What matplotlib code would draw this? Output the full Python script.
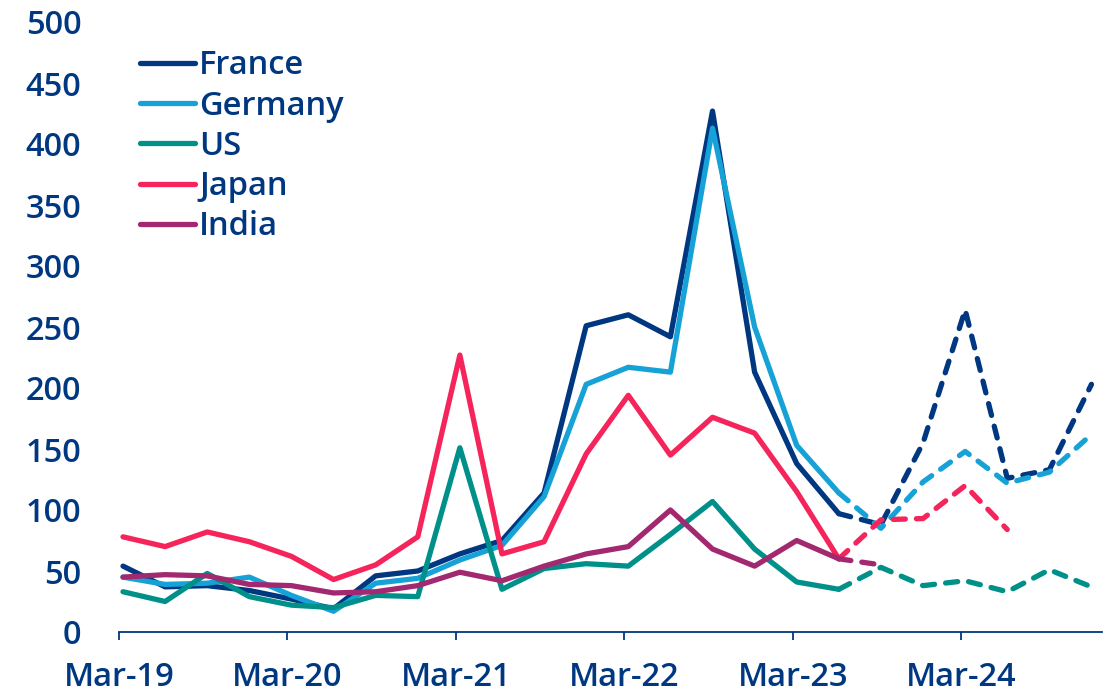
import matplotlib
matplotlib.use("Agg")
import matplotlib.pyplot as plt
import numpy as np

# Quarterly periods Mar-19 .. Dec-24
quarters = ["Mar-19", "Jun-19", "Sep-19", "Dec-19",
            "Mar-20", "Jun-20", "Sep-20", "Dec-20",
            "Mar-21", "Jun-21", "Sep-21", "Dec-21",
            "Mar-22", "Jun-22", "Sep-22", "Dec-22",
            "Mar-23", "Jun-23", "Sep-23", "Dec-23",
            "Mar-24", "Jun-24", "Sep-24", "Dec-24"]
tick_labels = ["Mar-19", "Mar-20", "Mar-21", "Mar-22", "Mar-23", "Mar-24"]

france  = [54, 37, 38, 34, 27, 19, 46, 50, 64, 75, 114, 251, 260, 242, 427, 213, 138, 97,
           88, 155, 264, 126, 133, 203]
germany = [45, 39, 40, 45, 30, 17, 40, 44, 59, 71, 111, 203, 217, 213, 413, 250, 153, 114,
           85, 123, 148, 122, 131, 162]
us      = [33, 25, 48, 29, 22, 20, 30, 29, 151, 35, 52, 56, 54, 80, 107, 68, 41, 35,
           53, 38, 42, 33, 51, 37]
japan   = [78, 70, 82, 74, 62, 43, 55, 78, 227, 64, 74, 146, 194, 145, 176, 163, 115, 60,
           92, 93, 120, 84]
india   = [45, 47, 46, 39, 38, 32, 33, 38, 49, 42, 54, 64, 70, 100, 68, 54, 75, 60,
           55]

last_actual = "Jun-23"   # solid up to here, dashed (forecast) afterwards

series = [("France", france, "#003781"),
          ("Germany", germany, "#16a2d7"),
          ("US", us, "#00908a"),
          ("Japan", japan, "#f5245a"),
          ("India", india, "#a2286f")]

text_color = "#003781"
plt.rcParams['font.family'] = ['Open Sans', 'DejaVu Sans']
FS = 23.5

fig = plt.figure(figsize=(11.10, 6.97), dpi=100)
ax = fig.add_axes([119/1110, 65/697, (1102-119)/1110, (632-22)/697])

split = quarters.index(last_actual)
lw = 3.8
for name, vals, col in series:
    x = np.arange(len(vals))
    ax.plot(x[:split+1], vals[:split+1], color=col, lw=lw, label=name,
            solid_capstyle='round', solid_joinstyle='round')
    ax.plot(x[split:], vals[split:], color=col, lw=lw, linestyle=(0, (2.3, 2.1)),
            dash_capstyle='round', dash_joinstyle='round')

ax.set_ylim(0, 500)
ax.set_xlim(-0.095, 23.25)
ax.set_yticks(np.arange(0, 501, 50))
ax.set_xticks([quarters.index(t) - 0.095 for t in tick_labels])
ax.set_xticklabels(tick_labels)

for s in ['top', 'right', 'left']:
    ax.spines[s].set_visible(False)
ax.spines['bottom'].set_color(text_color)
ax.spines['bottom'].set_linewidth(1.3)

ax.tick_params(axis='y', length=0, pad=27, labelsize=FS, labelcolor=text_color)
ax.tick_params(axis='x', length=6, width=1.3, color=text_color, pad=15,
               labelsize=FS, labelcolor=text_color)
for lab in ax.get_xticklabels() + ax.get_yticklabels():
    lab.set_fontweight(600)

leg = ax.legend(loc='upper left', bbox_to_anchor=(0.021, 0.955), frameon=False,
                borderpad=0, borderaxespad=0,
                handlelength=1.7, handletextpad=0.12, labelspacing=0.22,
                prop={'size': FS, 'weight': 600})
for t in leg.get_texts():
    t.set_color(text_color)

fig.savefig("out.png", dpi=100)
